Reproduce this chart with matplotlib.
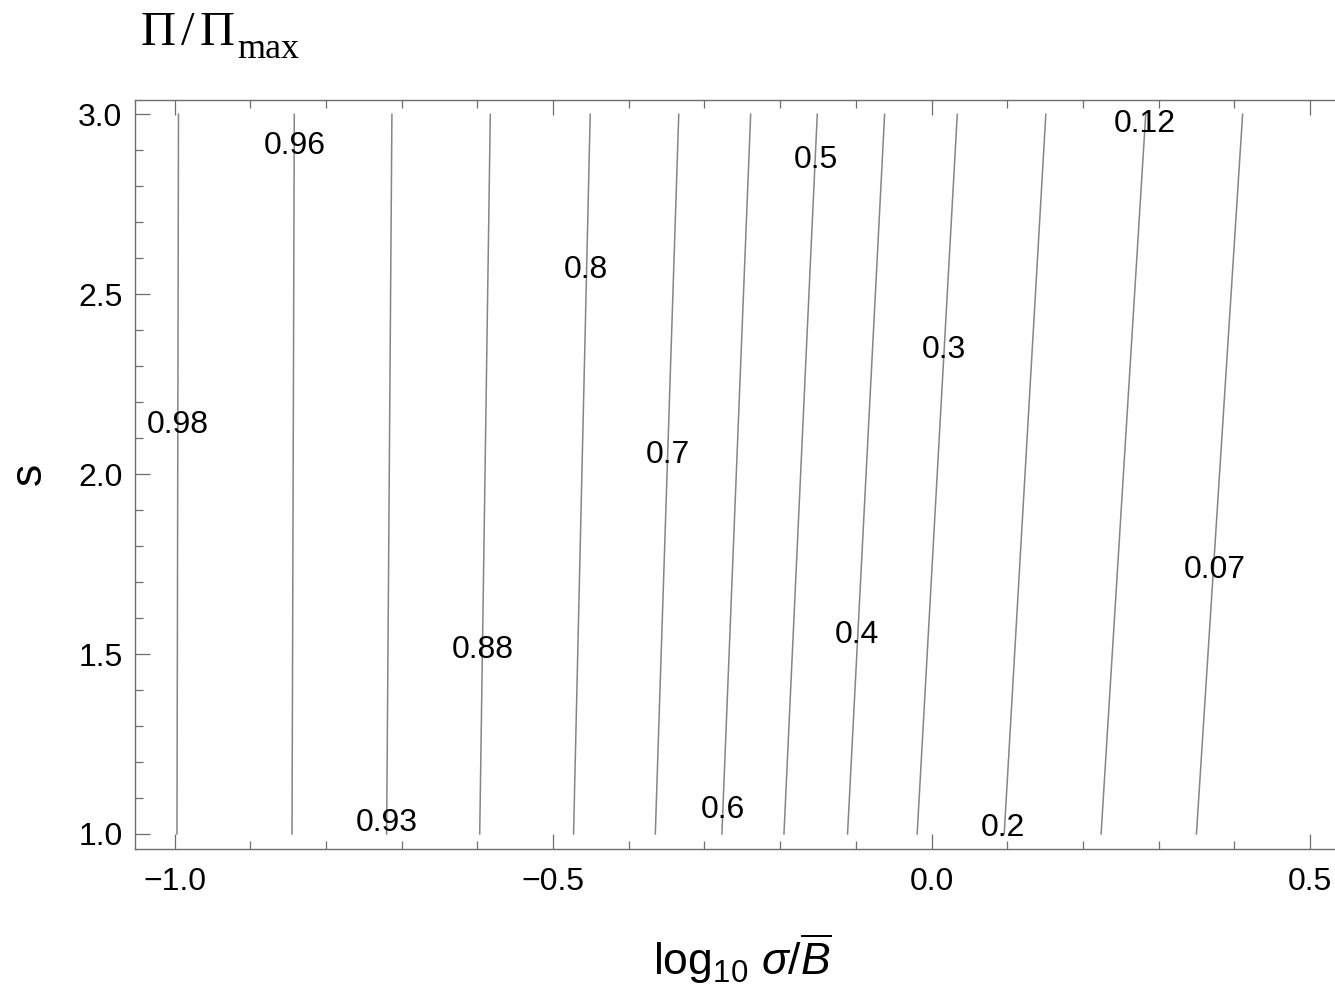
import matplotlib
matplotlib.use("Agg")
from matplotlib import pyplot as plt
from matplotlib.ticker import MultipleLocator
import numpy as np

# contour levels and where each contour crosses s = 1 and s = 3
levels = ['0.98', '0.96', '0.93', '0.88', '0.8', '0.7', '0.6', '0.5', '0.4', '0.3', '0.2', '0.12', '0.07']
x_at_s1 = [-0.997, -0.845, -0.720, -0.597, -0.473, -0.365, -0.277, -0.195, -0.111, -0.019, 0.096, 0.224, 0.350]
x_at_s3 = [-0.995, -0.842, -0.713, -0.583, -0.451, -0.334, -0.239, -0.151, -0.062, 0.034, 0.151, 0.283, 0.411]
s_ends = [1.0, 3.0]

# label positions on the contours
label_x = [-0.996, -0.842, -0.720, -0.593, -0.457, -0.348, -0.276, -0.153, -0.099, 0.016, 0.094, 0.282, 0.374]
label_y = [2.137, 2.911, 1.031, 1.512, 2.568, 2.054, 1.068, 2.873, 1.554, 2.345, 1.016, 2.974, 1.734]

x_ticks = [-1.0, -0.5, 0.0, 0.5]
x_tick_labels = ['\u22121.0', '\u22120.5', '0.0', '0.5']
y_ticks = [1.0, 1.5, 2.0, 2.5, 3.0]
y_tick_labels = ['1.0', '1.5', '2.0', '2.5', '3.0']

plt.rcParams['font.family'] = ['Liberation Sans', 'DejaVu Sans']
plt.rcParams['mathtext.fontset'] = 'custom'
plt.rcParams['mathtext.rm'] = 'Liberation Sans'
plt.rcParams['mathtext.it'] = 'Liberation Sans:italic'
plt.rcParams['mathtext.bf'] = 'Liberation Sans:bold'

frame = '#6e6e6e'
line_col = '#858585'

fig = plt.figure(figsize=(13.35, 9.88), dpi=100)
ax = fig.add_axes([0.1011, 0.1404, 0.9026, 0.7584])

for i in range(len(levels)):
    ax.plot([x_at_s1[i], x_at_s3[i]], s_ends, color=line_col, lw=1.1)
    ax.text(label_x[i], label_y[i], levels[i], fontsize=23, ha='center', va='center', color='black')

ax.set_xlim(-1.0525, 0.5396)
ax.set_ylim(0.9575, 3.0397)

ax.set_xticks(x_ticks)
ax.set_xticklabels(x_tick_labels)
ax.set_yticks(y_ticks)
ax.set_yticklabels(y_tick_labels)
ax.xaxis.set_minor_locator(MultipleLocator(0.1))
ax.yaxis.set_minor_locator(MultipleLocator(0.1))

ax.tick_params(which='both', direction='in', top=True, right=False, color=frame, width=0.9,
               labelsize=23, labelcolor='black')
ax.tick_params(which='major', length=10.5)
ax.tick_params(which='minor', length=6)
ax.tick_params(axis='x', which='major', pad=13)
ax.tick_params(axis='y', which='major', pad=9)

for sp in ax.spines.values():
    sp.set_color(frame)
    sp.set_linewidth(1.0)
ax.spines['right'].set_visible(False)

fig.text(0.5558, 0.0132, r'$\mathrm{log}_{10}\ \sigma/\overline{B}$', fontsize=32,
         ha='center', va='baseline')
fig.text(0.0221, 0.5203, 's', fontsize=32, rotation=90, ha='center', va='center')

# title: Pi / Pi_max in a Times-like face, pieces placed like the original
title_base = 1 - 45 / 988
fig.text(141 / 1335, title_base, '\u03a0', fontsize=35, family='Liberation Serif', va='baseline')
fig.text(181 / 1335, title_base, '/', fontsize=35, family='Liberation Serif', va='baseline')
fig.text(200 / 1335, title_base, '\u03a0', fontsize=35, family='Liberation Serif', va='baseline')
fig.text(237 / 1335, 1 - 58 / 988, 'max', fontsize=26, family='Liberation Serif', va='baseline')

fig.savefig('out.png', dpi=100)
